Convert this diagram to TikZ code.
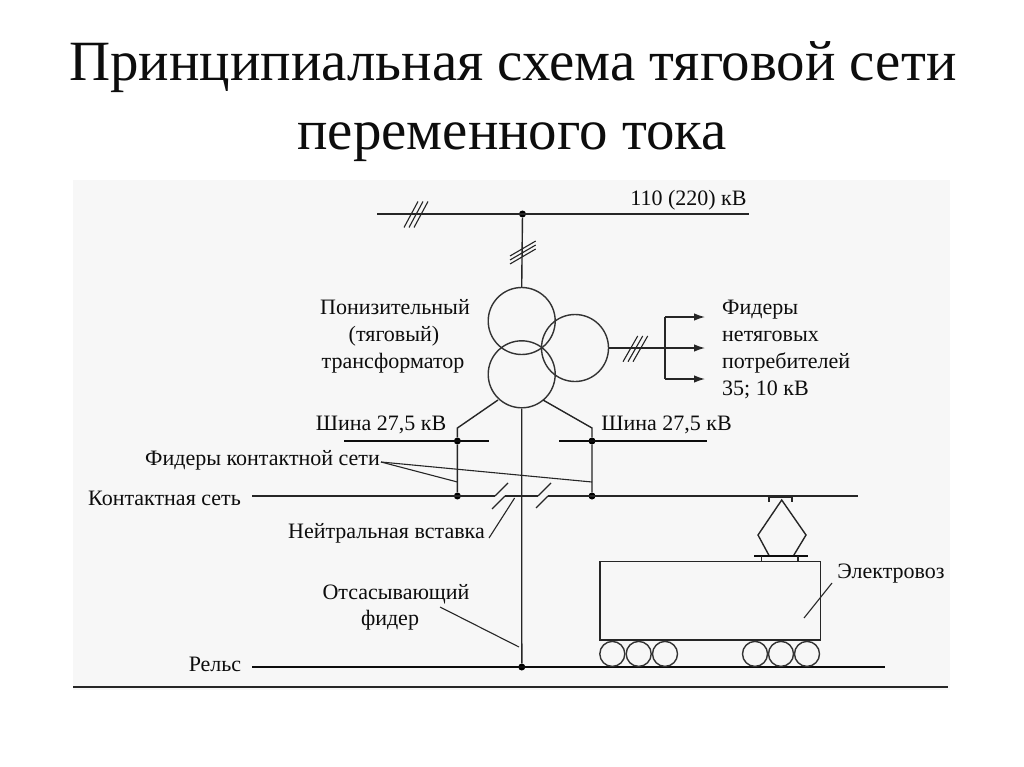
\documentclass[tikz,border=0pt]{standalone}
\usepackage{fontspec}
\usetikzlibrary{arrows.meta}
\setmainfont{Liberation Serif}
\begin{document}
\begin{tikzpicture}[x=1pt,y=-1pt,
  wire/.style={draw=black!85,line width=1.4pt},
  thin wire/.style={draw=black!85,line width=1.1pt},
  bus/.style={draw=black!95,line width=2.6pt},
  coil/.style={circle,draw=black!80,line width=1.4pt,minimum size=67pt,inner sep=0pt},
  wheel/.style={circle,draw=black!80,line width=1.4pt,minimum size=25pt,inner sep=0pt},
  dotj/.style={circle,fill=black,minimum size=7pt,inner sep=0pt},
  lbl/.style={inner sep=0pt,anchor=base,text=black!95,font=\fontsize{22}{22}\selectfont},
  ttl/.style={inner sep=0pt,anchor=base,text=black!95,font=\fontsize{56.9}{57}\selectfont},
  tip/.style={-{Latex[length=11pt,width=7.5pt]}}]
\useasboundingbox (0,0) rectangle (1024,767);
\fill[white] (0,0) rectangle (1024,767);
\fill[black!3] (73,180) rectangle (950,690);
% title
\node[ttl] (t1) at (513,81) {Принципиальная схема тяговой сети};
\node[ttl] (t2) at (512,150) {переменного тока};
% transformer
\node[coil] (ct) at (521.7,321) {};
\node[coil] (cr) at (575,348) {};
\node[coil] (cb) at (521.7,374.3) {};
% junctions
\node[dotj] (j0) at (522.5,214) {};
\node[dotj] (jl) at (457.4,441) {};
\node[dotj] (jr) at (592,441) {};
\node[dotj] (kl) at (457.4,496) {};
\node[dotj] (kr) at (592,496) {};
\node[dotj] (jg) at (521.8,667) {};
% HV line
\coordinate (hvl) at (377,214); \coordinate (hvr) at (749,214);
\draw[wire] (hvl) -- (hvr);
\draw[wire] (j0) -- (ct.north);
\foreach \d in {0,5,10} {
  \draw[thin wire] (404+\d,227.5) -- (418+\d,201.5);
  \draw[thin wire] (510,256+0.8*\d) -- (535.7,241+0.8*\d);
  \draw[thin wire] (623+\d,361.7) -- (637.7+\d,336);
}
% secondary
\coordinate (br) at (665,348);
\coordinate (bt) at (665,317); \coordinate (bb) at (665,379);
\coordinate (at) at (705,317); \coordinate (am) at (705,348); \coordinate (ab) at (705,379);
\draw[wire] (cr.east) -- (br);
\draw[wire] (bt) -- (bb);
\draw[wire,tip] (br) -- (am);
\draw[wire,tip] (bt) -- (at);
\draw[wire,tip] (bb) -- (ab);
% buses
\coordinate (bl1) at (344,441); \coordinate (bl2) at (489,441);
\coordinate (br1) at (559,441); \coordinate (br2) at (707,441);
\draw[bus] (bl1) -- (bl2);
\draw[bus] (br1) -- (br2);
\coordinate (cl) at (457.4,428); \coordinate (cr2) at (592,428);
\coordinate (tl) at (498,400); \coordinate (tr) at (543,400);
\draw[wire] (tl) -- (cl) -- (jl) -- (kl);
\draw[wire] (tr) -- (cr2) -- (jr) -- (kr);
\draw[wire] (cb.south) -- (jg);
% contact line
\coordinate (c0) at (252,496); \coordinate (c1) at (495,496);
\coordinate (c2) at (505,496); \coordinate (c3) at (538,496);
\coordinate (c4) at (548,496); \coordinate (c5) at (858,496);
\draw[wire] (c0) -- (c1);
\draw[wire] (c2) -- (c3);
\draw[wire] (c4) -- (c5);
\draw[thin wire] (495,496) -- (508,483);
\draw[thin wire] (492,509) -- (505,496);
\draw[thin wire] (538,496) -- (551,483);
\draw[thin wire] (536,508) -- (548,496);
% rail and ground
\coordinate (r0) at (252,667); \coordinate (r1) at (885,667);
\draw[bus] (r0) -- (r1);
\coordinate (g0) at (73,687); \coordinate (g1) at (948,687);
\draw[wire] (g0) -- (g1);
% locomotive
\node[draw=black!85,line width=1.4pt,minimum width=220.7pt,minimum height=78.3pt,inner sep=0pt] (body) at (710.35,600.85) {};
\foreach \n/\x in {w1/612.3,w2/638.7,w3/665,w4/755,w5/781,w6/807}
  \node[wheel] (\n) at (\x,653.9) {};
\draw[wire] (769.3,556) -- (758,535) -- (781.7,500) -- (806,535) -- (793.3,556);
\draw[bus] (754,556) -- (807.7,556);
\draw[wire] (761.7,556) -- (761.7,562);
\draw[wire] (798,556) -- (798,562);
\draw[wire,line width=1.8pt] (769,502) -- (769,497) -- (791.7,497) -- (791.7,502);
% labels
\node[lbl] (hv) at (688.5,206) {110 (220) кВ};
\node[lbl] (tr1) at (395,314) {Понизительный};
\node[lbl] (tr2) at (394,341) {(тяговый)};
\node[lbl] (tr3) at (393,368) {трансформатор};
\node[lbl,anchor=base west] (f1) at (722,314) {Фидеры};
\node[lbl,anchor=base west] (f2) at (722,341) {нетяговых};
\node[lbl,anchor=base west] (f3) at (722,368) {потребителей};
\node[lbl,anchor=base west] (f4) at (722,395) {35; 10 кВ};
\node[lbl] (s1) at (381,430) {Шина 27,5 кВ};
\node[lbl] (s2) at (666.5,430) {Шина 27,5 кВ};
\node[lbl] (fk) at (262.5,465) {Фидеры контактной сети};
\node[lbl] (kn) at (164.5,505) {Контактная сеть};
\node[lbl] (nv) at (386.5,538) {Нейтральная вставка};
\node[lbl] (o1) at (396,599) {Отсасывающий};
\node[lbl] (o2) at (390,625) {фидер};
\node[lbl] (rl) at (215,671) {Рельс};
\node[lbl] (el) at (891,578) {Электровоз};
% leaders
\coordinate (fk0) at (381,462);
\draw[thin wire] (fk0) -- (kl|-0,482);
\draw[thin wire] (fk0) -- (kr|-0,482);
\coordinate (nv0) at (489,538); \coordinate (nv1) at (514.6,498);
\draw[thin wire] (nv0) -- (nv1);
\coordinate (o0) at (440,607); \coordinate (o3) at (519,647);
\draw[thin wire] (o0) -- (o3);
\coordinate (e0) at (832,583); \coordinate (e1) at (804,618);
\draw[thin wire] (e0) -- (e1);
\end{tikzpicture}
\end{document}
